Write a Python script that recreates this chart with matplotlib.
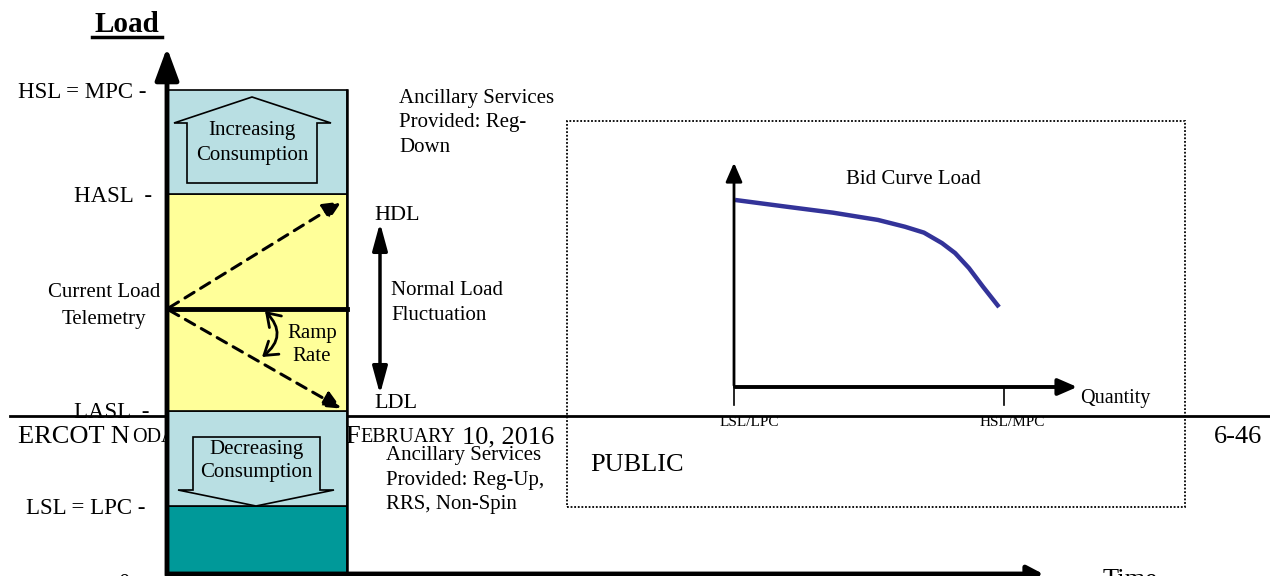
import matplotlib.pyplot as plt
from matplotlib.patches import Rectangle, Polygon

plt.rcParams['font.family'] = ['Liberation Serif', 'DejaVu Serif']

# load levels (canvas units, 0 = zero load)
level_values = [0, 70, 165, 382, 486]
level_labels = ["0  -", "LSL = LPC -", "LASL  -", "HASL  -", "HSL = MPC -"]
current_load = 267
hdl, ldl = 376, 166
band_colors = ["#009999", "#B9DFE3", "#FFFF99", "#B9DFE3"]

# bid curve (fraction of inner axes)
bid_quantity = [0.003, 0.153, 0.286, 0.416, 0.494, 0.549, 0.601, 0.639, 0.679, 0.720, 0.766]
bid_price = [0.824, 0.794, 0.768, 0.736, 0.706, 0.680, 0.634, 0.590, 0.524, 0.441, 0.352]
hsl_quantity = 0.78

W, H = 1270, 576
fig = plt.figure(figsize=(12.7, 5.76), dpi=100)
ax = fig.add_axes([0, 0, 1, 1])
ax.set_xlim(0, W)
ax.set_ylim(0, H)
ax.axis('off')

bar_x, bar_w = 167, 180
lc = '#B9DFE3'
LS = 1.45

# footer (behind the bar)
ax.plot([10, W], [160, 160], color='k', lw=2, zorder=2)
ax.text(18, 139, "ERCOT N", fontsize=19, va='center', zorder=1)
ax.text(132, 139, "ODAL", fontsize=14.5, va='center', zorder=1)
ax.text(345, 139, "F", fontsize=19, va='center', zorder=1)
ax.text(360, 139, "EBRUARY", fontsize=14.5, va='center', zorder=1)
ax.text(554, 139, "10, 2016", fontsize=19, va='center', ha='right', zorder=1)
ax.text(1262, 139, "6-46", fontsize=19, va='center', ha='right', zorder=1)

# stacked bands
for lo, hi, c in zip(level_values[:-1], level_values[1:], band_colors):
    ax.bar(bar_x, hi - lo, bottom=lo, width=bar_w, align='edge', color=c,
           edgecolor='k', lw=1.2, zorder=3)
ax.plot([bar_x, bar_x + bar_w], [current_load] * 2, color='k', lw=3.5, zorder=4)
ax.plot([bar_x + bar_w] * 2, [0, level_values[-1]], color='k', lw=1.8, zorder=4)

# level labels
label_x = [150, 146, 150, 152, 146]
for lx, t, v in zip(label_x, level_labels, level_values):
    if v == 0:
        ax.text(lx, 3, t, fontsize=16.5, ha='right', va='top', zorder=1)
    else:
        ax.text(lx, v - 2, t, fontsize=16.5, ha='right', va='center', zorder=1)

# axes arrows
ax.annotate('', xy=(bar_x, 531), xytext=(bar_x, -2),
            arrowprops=dict(arrowstyle='-|>,head_length=1.95,head_width=0.72',
                            lw=3.5, color='k', mutation_scale=10), zorder=6)
ax.annotate('', xy=(1046, 2), xytext=(bar_x - 2, 2),
            arrowprops=dict(arrowstyle='-|>,head_length=0.95,head_width=0.5',
                            lw=3.5, color='k', mutation_scale=10), zorder=6)
ax.text(1103, 7, "Time", fontsize=19, va='top')

ax.text(127, 552, "Load", fontsize=21, fontweight='bold', ha='center', va='center')
ax.plot([92, 162], [539, 539], color='k', lw=2.5)

# up / down consumption arrows
up = Polygon([(174, 453), (252, 479), (331, 453), (317, 453), (317, 393),
              (187, 393), (187, 453)], closed=True, fc=lc, ec='k', lw=1.2, zorder=5)
dn = Polygon([(193, 139), (320, 139), (320, 86), (334, 86), (256, 70),
              (178, 86), (193, 86)], closed=True, fc=lc, ec='k', lw=1.2, zorder=5)
ax.add_patch(up)
ax.add_patch(dn)
ax.text(252, 433, "Increasing\nConsumption", fontsize=15, ha='center', va='center',
        linespacing=LS, zorder=6)
ax.text(256, 115, "Decreasing\nConsumption", fontsize=15, ha='center', va='center',
        linespacing=1.25, zorder=6)

# ramp arrows
for target in (hdl, ldl):
    ax.annotate('', xy=(bar_x + bar_w - 3, target), xytext=(bar_x, current_load),
                arrowprops=dict(arrowstyle='-|>,head_length=1.1,head_width=0.5',
                                lw=2.2, ls=(0, (3.5, 2.5)), color='k', mutation_scale=10),
                zorder=6)
ax.annotate('', xy=(262, 219), xytext=(265, 265),
            arrowprops=dict(arrowstyle='<->,head_length=0.45,head_width=0.3',
                            lw=2, color='k', mutation_scale=20, shrinkA=0, shrinkB=0,
                            connectionstyle='arc3,rad=-0.55'), zorder=6)
ax.text(312, 231, "Ramp\nRate", fontsize=15, ha='center', va='center',
        linespacing=1.35, zorder=6)
ax.text(104, 270, "Current Load\nTelemetry", fontsize=15, ha='center', va='center',
        linespacing=1.55)

# normal load fluctuation
ax.annotate('', xy=(380, 356), xytext=(380, 179),
            arrowprops=dict(arrowstyle='<|-|>,head_length=1.65,head_width=0.45',
                            lw=2.5, color='k', mutation_scale=10))
ax.text(374, 361, "HDL", fontsize=16, va='center')
ax.text(374, 173, "LDL", fontsize=16, va='center')
ax.text(391, 273, "Normal Load\nFluctuation", fontsize=15, va='center', linespacing=LS)

ax.text(399, 453, "Ancillary Services\nProvided: Reg-\nDown", fontsize=15,
        va='center', linespacing=1.4)
ax.text(386, 96, "Ancillary Services\nProvided: Reg-Up,\nRRS, Non-Spin", fontsize=15,
        va='center', linespacing=1.4, zorder=1)

# dotted box
ax.add_patch(Rectangle((567, 69), 618, 386, fill=False, ls=(0, (1, 1)), lw=1.3,
                       ec='k', zorder=1))
ax.text(590, 111, "PUBLIC", fontsize=19, va='center')

# bid curve inset
ix0, iy0, ix1, iy1 = 734, 576 - 387, 1080, 576 - 160
bx = fig.add_axes([ix0 / W, iy0 / H, (ix1 - ix0) / W, (iy1 - iy0) / H])
bx.set_xlim(0, 1)
bx.set_ylim(0, 1)
bx.axis('off')
bx.patch.set_alpha(0)
bx.plot(bid_quantity, bid_price, color='#333399', lw=3.2, solid_capstyle='butt',
        solid_joinstyle='round', clip_on=False)
bx.annotate('', xy=(0, 1.0), xytext=(0, -0.005),
            arrowprops=dict(arrowstyle='-|>,head_length=1.15,head_width=0.5',
                            lw=2, color='k', mutation_scale=10))
bx.annotate('', xy=(1.0, 0), xytext=(-0.005, 0),
            arrowprops=dict(arrowstyle='-|>,head_length=1.15,head_width=0.5',
                            lw=2.8, color='k', mutation_scale=10))
for q in (0.0, hsl_quantity):
    bx.plot([q, q], [0, -0.08], color='k', lw=1.2, clip_on=False)
bx.text(0.52, 0.915, "Bid Curve Load", fontsize=15, ha='center', va='center',
        transform=bx.transAxes)
bx.text(1.0, -0.05, "Quantity", fontsize=14.5, va='center', transform=bx.transAxes)
bx.text(0.045, -0.155, "LSL/LPC", fontsize=11, ha='center', va='center',
        transform=bx.transAxes)
bx.text(0.805, -0.155, "HSL/MPC", fontsize=11, ha='center', va='center',
        transform=bx.transAxes)

fig.savefig('out.png', dpi=100)
